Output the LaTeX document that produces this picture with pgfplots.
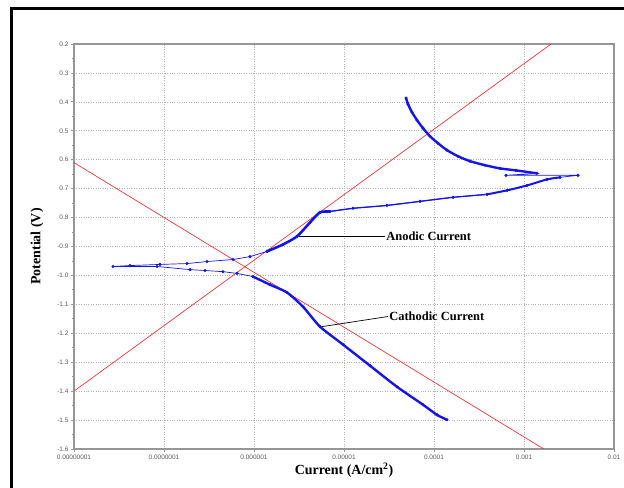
\documentclass[border=0pt]{standalone}
\usepackage{pgfplots}
\pgfplotsset{compat=1.18}
\usepackage{fontspec}
\setmainfont{Liberation Serif}
\newfontfamily\arialfont{Liberation Sans}
\definecolor{datablue}{RGB}{20,20,235}
\definecolor{tafelred}{RGB}{230,55,60}
\definecolor{framegray}{RGB}{150,150,150}
\begin{document}
\begin{tikzpicture}
\begin{axis}[name=ax,
  scale only axis, width=540bp, height=405bp,
  xmode=log, xmin=1e-8, xmax=1e-2, ymin=-1.6, ymax=-0.2,
  xtick={1e-8,1e-7,1e-6,1e-5,1e-4,1e-3,1e-2},
  xticklabels={0.00000001,0.0000001,0.000001,0.00001,0.0001,0.001,0.01},
  xminorticks=false,
  ytick={-1.6,-1.5,-1.4,-1.3,-1.2,-1.1,-1.0,-0.9,-0.8,-0.7,-0.6,-0.5,-0.4,-0.3,-0.2},
  yticklabels={-1.6,-1.5,-1.4,-1.3,-1.2,-1.1,-1.0,-0.9,0.8,0.7,0.6,0.5,0.4,0.3,0.2},
  minor y tick num=1,
  xtick pos=bottom, ytick pos=left, tick align=outside,
  major tick length=3bp, minor tick length=2bp,
  tick style={framegray, line width=0.8pt},
  axis line style={framegray, line width=1.3pt},
  grid=major, grid style={dotted, black!30, line width=0.6pt},
  ticklabel style={font=\arialfont\fontsize{6.5}{7}\selectfont, text=black!65},
  xticklabel style={yshift=1bp},
  yticklabel style={xshift=1bp},
  xlabel={\bfseries Current (A/cm\textsuperscript{2})},
  ylabel={\bfseries Potential (V)},
  label style={font=\fontsize{14}{16}\selectfont},
  xlabel style={at={(axis description cs:0.5,-0.052)}, anchor=center},
  ylabel style={at={(axis description cs:-0.0685,0.5)}, anchor=center},
  clip=true,
]
% Tafel lines
\addplot[tafelred, line width=0.7pt] coordinates {(1e-8,-1.4) (0.002,-0.2)};
\addplot[tafelred, line width=0.7pt] coordinates {(1e-8,-0.61) (0.00166,-1.6)};
% full polarisation curve
\addplot[datablue, line width=0.7pt, mark=*, mark size=1.2pt] coordinates {
(1.394e-4,-1.499) (1.080e-4,-1.482) (7.55e-5,-1.447) (3.88e-5,-1.385)
(1.945e-5,-1.312) (9.75e-6,-1.239) (5.41e-6,-1.177) (3.50e-6,-1.108)
(2.326e-6,-1.059) (1.506e-6,-1.032) (9.75e-7,-1.004) (6.47e-7,-0.993)
(4.52e-7,-0.987) (2.855e-7,-0.983) (1.945e-7,-0.980) (8.36e-8,-0.969)
(2.713e-8,-0.969)
(4.19e-8,-0.966) (9.03e-8,-0.962) (1.80e-7,-0.959) (3.005e-7,-0.952)
(5.84e-7,-0.945) (9.03e-7,-0.935) (1.394e-6,-0.917) (2.10e-6,-0.893)
(3.005e-6,-0.865) (4.19e-6,-0.817) (5.41e-6,-0.782) (6.99e-6,-0.779)
(1.259e-5,-0.768) (3.005e-5,-0.758) (6.99e-5,-0.744) (1.626e-4,-0.730)
(3.88e-4,-0.720) (6.47e-4,-0.706) (1.080e-3,-0.689) (1.80e-3,-0.668)
(2.512e-3,-0.661) (3.981e-3,-0.654)
(6.31e-4,-0.654) (1.394e-3,-0.647) (8.15e-4,-0.637) (5.41e-4,-0.630)
(3.687e-4,-0.619) (2.512e-4,-0.605) (1.848e-4,-0.588) (1.394e-4,-0.567)
(1.108e-4,-0.543) (9.03e-5,-0.519) (7.55e-5,-0.491) (6.47e-5,-0.463)
(5.70e-5,-0.436) (5.14e-5,-0.408) (4.89e-5,-0.387)
};
% dense parts of the curve
\addplot[datablue, line width=2.4pt, line join=round, line cap=round, smooth, tension=0.4] coordinates {
(1.394e-4,-1.499) (1.080e-4,-1.482) (7.55e-5,-1.447) (3.88e-5,-1.385)
(1.945e-5,-1.312) (9.75e-6,-1.239) (5.41e-6,-1.177) (3.50e-6,-1.108)
(2.326e-6,-1.059) (1.506e-6,-1.032) (9.75e-7,-1.004)
};
\addplot[datablue, line width=2.6pt, line join=round, line cap=round, smooth, tension=0.4] coordinates {
(1.394e-6,-0.917) (2.10e-6,-0.893) (3.005e-6,-0.865) (4.19e-6,-0.817)
(5.41e-6,-0.782) (6.99e-6,-0.779)
};
\addplot[datablue, line width=1.3pt, line join=round, line cap=round, smooth, tension=0.4] coordinates {
(6.99e-6,-0.779) (1.259e-5,-0.768) (3.005e-5,-0.758) (6.99e-5,-0.744)
(1.626e-4,-0.730) (3.88e-4,-0.720)
};
\addplot[datablue, line width=2.0pt, line join=round, line cap=round, smooth, tension=0.4] coordinates {
(3.88e-4,-0.720) (6.47e-4,-0.706) (1.080e-3,-0.689) (1.80e-3,-0.668)
(2.512e-3,-0.661)
};
\addplot[datablue, line width=2.4pt, line join=round, line cap=round, smooth, tension=0.5] coordinates {
(1.394e-3,-0.647) (8.15e-4,-0.637) (5.41e-4,-0.630)
(3.687e-4,-0.619) (2.512e-4,-0.605) (1.848e-4,-0.588) (1.394e-4,-0.567)
(1.108e-4,-0.543) (9.03e-5,-0.519) (7.55e-5,-0.491) (6.47e-5,-0.463)
(5.70e-5,-0.436) (5.14e-5,-0.408) (4.89e-5,-0.387)
};
% annotations
\draw[black, line width=0.7pt] (axis cs:3.2e-6,-0.865) -- (axis cs:2.86e-5,-0.865)
  node[right, inner sep=1bp, font=\bfseries\fontsize{12.5}{14}\selectfont] {Anodic Current};
\draw[black, line width=0.7pt] (axis cs:5.7e-6,-1.177) -- (axis cs:3.08e-5,-1.142)
  node[right, inner sep=1bp, font=\bfseries\fontsize{12.5}{14}\selectfont] {Cathodic Current};
\end{axis}
\pgfresetboundingbox
\begin{scope}[shift={(ax.south west)}, x=1bp, y=1bp]
\path[use as bounding box] (-74,-39) rectangle (550,449);
\fill[black] (-64,-39) rectangle (-61,442);
\fill[black] (-64,442) rectangle (550,439);
\end{scope}
\end{tikzpicture}
\end{document}
